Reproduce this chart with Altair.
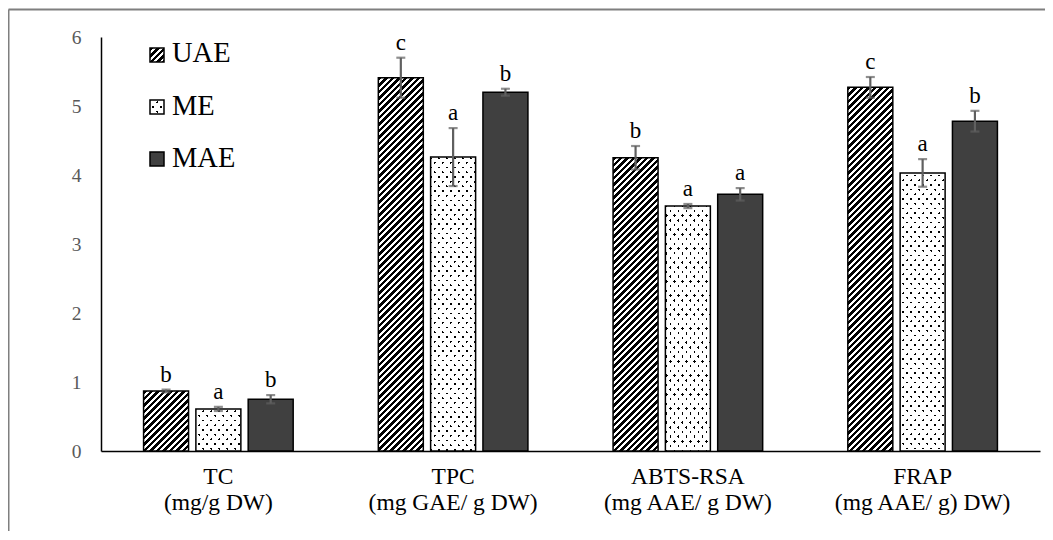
import altair as alt
import pandas as pd

# ---------------- data ----------------
categories = ["TC\n(mg/g DW)", "TPC\n(mg GAE/ g DW)", "ABTS-RSA\n(mg AAE/ g DW)", "FRAP\n(mg AAE/ g) DW)"]
methods = ["UAE", "ME", "MAE"]
uae_values = [0.87, 5.41, 4.25, 5.27]
me_values = [0.61, 4.26, 3.55, 4.03]
mae_values = [0.75, 5.20, 3.72, 4.78]
uae_err = [0.02, 0.29, 0.17, 0.15]
me_err = [0.03, 0.42, 0.03, 0.20]
mae_err = [0.06, 0.05, 0.09, 0.15]
uae_letters = ["b", "c", "b", "c"]
me_letters = ["a", "a", "a", "a"]
mae_letters = ["b", "b", "a", "b"]
y_ticks = [0, 1, 2, 3, 4, 5, 6]

rows = []
for m, vals, errs, lets in [("UAE", uae_values, uae_err, uae_letters),
                            ("ME", me_values, me_err, me_letters),
                            ("MAE", mae_values, mae_err, mae_letters)]:
    for c, v, e, l in zip(categories, vals, errs, lets):
        rows.append({"category": c, "method": m, "value": v, "err": e,
                     "lo": v - e, "hi": v + e, "letter": l})
df = pd.DataFrame(rows)

# ---------------- layout ----------------
PLOT_W, PLOT_H, Y_MAX = 939, 414, 6
OFF_PI, OFF_PO = 0.14, 0.814
band = PLOT_W / len(categories)
step = band / (len(methods) - OFF_PI + 2 * OFF_PO)
BAR_W = step * (1 - OFF_PI)
PX_PER_UNIT = PLOT_H / Y_MAX
SERIF = "Liberation Serif"
TRANSP = "rgba(255,255,255,0)"


def stripe_gradient(gid, w, h, period, on_width, on_color, off_color, r=1.0, flip=False):
    L = w + r * h
    k = L / (w * w + r * r * h * h)
    if not flip:
        x1, y1, x2, y2 = 0, 0, k * w, k * r * h
    else:
        x1, y1, x2, y2 = 0, 1, k * w, 1 - k * r * h
    stops = []
    i = 0
    while i * period < L:
        a = i * period / L
        b = min((i * period + on_width) / L, 1)
        c = min((i + 1) * period / L, 1)
        stops += [{"offset": round(a, 5), "color": on_color},
                  {"offset": round(b, 5), "color": on_color},
                  {"offset": round(b, 5), "color": off_color},
                  {"offset": round(c, 5), "color": off_color}]
        i += 1
    return {"gradient": "linear", "id": gid, "x1": x1, "y1": y1, "x2": x2, "y2": y2, "stops": stops}


def hatch(gid, w, h):
    return stripe_gradient(gid, w, h, 6.5, 3.6, "#000000", "#ffffff")


def dots_a(gid, w, h):
    return stripe_gradient(gid, w, h, 8.0, 2.3, "#000000", "#ffffff", r=0.85)


def dots_b(gid, w, h):
    return stripe_gradient(gid, w, h, 8.0, 2.3, TRANSP, "#ffffff", r=0.85, flip=True)


# ---------------- encodings ----------------
x_axis = alt.Axis(title=None, labelExpr="split(datum.label, '\\n')", labelAngle=0,
                  labelFont=SERIF, labelFontSize=23.5, labelColor="#000000",
                  labelLineHeight=26, labelPadding=13, ticks=False,
                  domainColor="#000000", domainWidth=1.5, grid=False)
y_axis = alt.Axis(title=None, values=y_ticks, labelFont=SERIF, labelFontSize=19.5,
                  labelColor="#595959", labelPadding=20, ticks=False, grid=False,
                  domainColor="#000000", domainWidth=1.5)
x_scale = alt.Scale(domain=categories, paddingInner=0, paddingOuter=0)
xo_scale = alt.Scale(domain=methods, paddingInner=OFF_PI, paddingOuter=OFF_PO)
y_scale = alt.Scale(domain=[0, Y_MAX], nice=False, zero=True)


def X():
    return alt.X("category:N", scale=x_scale, axis=x_axis, sort=categories)


def XO():
    return alt.XOffset("method:N", scale=xo_scale, sort=methods)


def Y(field):
    return alt.Y(field + ":Q", scale=y_scale, axis=y_axis)


one = pd.DataFrame({"k": [0]})
layers = []

# outer frame (top and left edges visible)
layers.append(alt.Chart(one).mark_rule(color="#7f7f7f", strokeWidth=2).encode(
    x=alt.value(-92.5), x2=alt.value(PLOT_W + 20), y=alt.value(-27.5)))
layers.append(alt.Chart(one).mark_rule(color="#7f7f7f", strokeWidth=2).encode(
    x=alt.value(-92.5), y=alt.value(-27.5), y2=alt.value(PLOT_H + 120)))

# MAE bars
layers.append(alt.Chart(df[df.method == "MAE"]).mark_bar(
    fill="#404040", stroke="#000000", strokeWidth=1.5).encode(x=X(), xOffset=XO(), y=Y("value")))

# UAE and ME bars with patterns
for i, c in enumerate(categories):
    d_u = df[(df.method == "UAE") & (df.category == c)]
    h_u = uae_values[i] * PX_PER_UNIT
    layers.append(alt.Chart(d_u).mark_bar(
        fill=hatch(f"uae_hatch_{i}", BAR_W, h_u), stroke="#000000", strokeWidth=1.5
    ).encode(x=X(), xOffset=XO(), y=Y("value")))

    d_m = df[(df.method == "ME") & (df.category == c)]
    h_m = me_values[i] * PX_PER_UNIT
    layers.append(alt.Chart(d_m).mark_bar(
        fill=dots_a(f"me_dots_a_{i}", BAR_W, h_m), strokeWidth=0
    ).encode(x=X(), xOffset=XO(), y=Y("value")))
    layers.append(alt.Chart(d_m).mark_bar(
        fill=dots_b(f"me_dots_b_{i}", BAR_W, h_m), stroke="#000000", strokeWidth=1.5
    ).encode(x=X(), xOffset=XO(), y=Y("value")))

# error bars
ERR_COLOR = "#606060"
layers.append(alt.Chart(df).mark_rule(color=ERR_COLOR, strokeWidth=2.2).encode(
    x=X(), xOffset=XO(), y=Y("lo"), y2="hi:Q"))
layers.append(alt.Chart(df).mark_tick(color=ERR_COLOR, thickness=2.2, size=9).encode(
    x=X(), xOffset=XO(), y=Y("hi")))
layers.append(alt.Chart(df).mark_tick(color=ERR_COLOR, thickness=2.2, size=9).encode(
    x=X(), xOffset=XO(), y=Y("lo")))

# significance letters
layers.append(alt.Chart(df).mark_text(font=SERIF, fontSize=23, color="#000000",
                                      baseline="alphabetic", dy=-8).encode(
    x=X(), xOffset=XO(), y=Y("hi"), text="letter:N"))

# legend
SW_X0, SW_X1 = 49, 63
leg_rows = [("UAE", 11, 25, 25), ("ME", 63, 77, 78), ("MAE", 115, 129, 130)]
for name, y0, y1, base in leg_rows:
    if name == "UAE":
        fills = [(hatch("leg_uae", 14, 14), 1.5)]
    elif name == "ME":
        fills = [(dots_a("leg_me_a", 14, 14), 0), (dots_b("leg_me_b", 14, 14), 1.5)]
    else:
        fills = [("#404040", 1.5)]
    for f, sw in fills:
        layers.append(alt.Chart(one).mark_rect(fill=f, stroke="#000000", strokeWidth=sw).encode(
            x=alt.value(SW_X0), x2=alt.value(SW_X1), y=alt.value(y0), y2=alt.value(y1)))
    layers.append(alt.Chart(one).mark_text(font=SERIF, fontSize=28.5, color="#000000",
                                           align="left", baseline="alphabetic").encode(
        x=alt.value(71), y=alt.value(base), text=alt.value(name)))

chart = alt.layer(*layers).properties(
    width=PLOT_W, height=PLOT_H,
    autosize=alt.AutoSizeParams(type="none"),
    padding={"left": 93, "top": 29, "right": 5, "bottom": 80},
).configure_view(stroke=None)

chart.save("out.html", embed_options={"renderer": "svg", "actions": False})
